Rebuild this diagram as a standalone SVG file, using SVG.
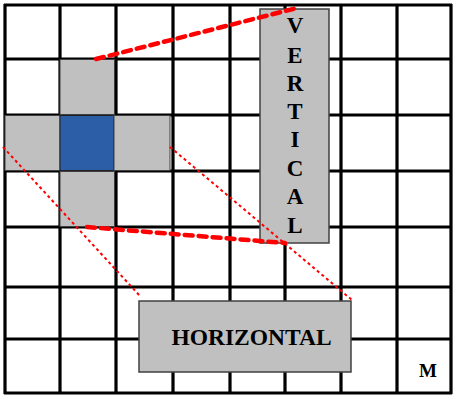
<svg xmlns="http://www.w3.org/2000/svg" width="454" height="396" viewBox="0 0 454 396">
<style>
.g{stroke:#000;stroke-width:3.2;fill:none}
.cell{fill:#c0c0c0;stroke:#404040;stroke-width:1}
.blue{fill:#2b5ea7;stroke:#202020;stroke-width:1}
.box{fill:#c0c0c0;stroke:#404040;stroke-width:1.5}
.t{font-family:"Liberation Serif","Times New Roman",serif;font-weight:bold;fill:#000}
.thick{stroke:#ff0000;stroke-width:4.5;stroke-dasharray:8 6;stroke-linecap:round;fill:none}
.thin{stroke:#ff0000;stroke-width:2;stroke-dasharray:3 3;fill:none}
</style>
<rect width="454" height="396" fill="#fff"/>
<g id="grid">
<path class="g" d="M5 4V394M60 4V394M116 4V394M173 4V394M230 4V394M285 4V394M341 4V394M397 4V394M451 4V394"/>
<path class="g" d="M4 5H452M4 59H452M4 115H452M4 171H452M4 227H452M4 287H452M4 339H452M4 393H452"/>
</g>
<g id="cross">
<rect class="cell" x="60" y="59.5" width="54.5" height="55"/>
<rect class="cell" x="5" y="115.5" width="55" height="55"/>
<rect class="blue" x="60" y="115.5" width="54" height="55"/>
<rect class="cell" x="114" y="115.5" width="56" height="55"/>
<rect class="cell" x="60" y="171.5" width="54.5" height="55"/>
</g>
<g id="vertical">
<rect class="box" x="260" y="9" width="69" height="234"/>
<g class="t" font-size="23" text-anchor="middle">
<text x="295" y="33">V</text>
<text x="295" y="63">E</text>
<text x="295" y="91">R</text>
<text x="295" y="119">T</text>
<text x="295" y="147">I</text>
<text x="295" y="176">C</text>
<text x="295" y="204">A</text>
<text x="295" y="233">L</text>
</g>
</g>
<g id="horizontal">
<rect class="box" x="139" y="301" width="212" height="71"/>
<text class="t" x="251.5" y="345" font-size="23.5" text-anchor="middle">HORIZONTAL</text>
</g>
<g id="m">
<text class="t" x="428" y="377" font-size="19" text-anchor="middle">M</text>
</g>
<g id="connectors">
<line class="thick" x1="96" y1="59" x2="297" y2="8"/>
<line class="thick" x1="87" y1="227" x2="285" y2="243"/>
<line class="thin" x1="3" y1="147" x2="140" y2="296"/>
<line class="thin" x1="170" y1="147" x2="352" y2="300"/>
</g>
</svg>
